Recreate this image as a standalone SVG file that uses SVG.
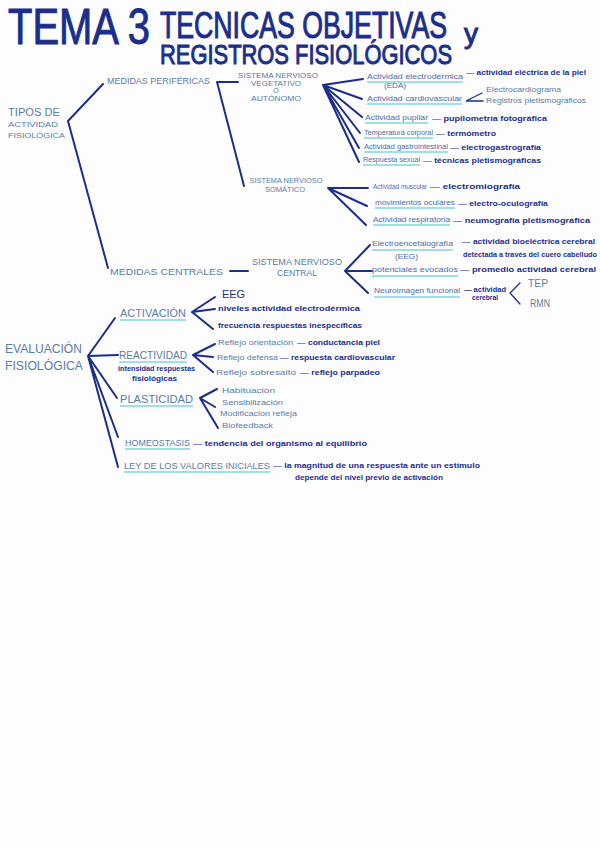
<svg xmlns="http://www.w3.org/2000/svg" width="600" height="848" viewBox="0 0 600 848">
<style>
text{font-family:"Liberation Sans","DejaVu Sans",sans-serif}
.t{fill:#1b2e8c}
.tt{fill:#1b2e8c;stroke:#1b2e8c;stroke-width:1}
.nv{fill:#1b2e8c;font-size:8px;font-weight:bold}
.sl{fill:#5a7ca8}
.it{fill:#4a6db0;font-size:8px}
.h{fill:#5a7ca8;font-size:9px}
.ul{stroke:#7fd6d8;stroke-width:1.6;fill:none}
.ln{stroke:#1b2e8c;stroke-width:2;stroke-linecap:round;fill:none}
.th{stroke:#1b2e8c;stroke-width:1.3;stroke-linecap:round;fill:none}
</style>
<rect width="600" height="848" fill="#fdfdfd"/>
<g id="title">
<text class="tt" x="8" y="44" font-size="50" textLength="142" lengthAdjust="spacingAndGlyphs">TEMA 3</text>
<text class="tt" x="160" y="38" font-size="36" textLength="287" lengthAdjust="spacingAndGlyphs">TECNICAS OBJETIVAS</text>
<text class="tt" x="464" y="43" font-size="28">y</text>
<text class="tt" x="160" y="64" font-size="27" textLength="292" lengthAdjust="spacingAndGlyphs">REGISTROS FISIOLÓGICOS</text>
</g>
<g id="connectors">
<path class="ln" d="M68 121 L103 84 M68 121 L108 268"/>
<path class="ln" d="M217 82 L238 82 M217 82 L244 186"/>
<path class="ln" d="M323 85 L363 79 M323 85 L362 99 M323 85 L362 117 M323 85 L360 133 M323 85 L359 148 M323 85 L359 162"/>
<path class="th" d="M482 93 L466 101 L483 101"/>
<path class="ln" d="M328 188 L368 188 M328 188 L367 206 M328 188 L366 225"/>
<path class="ln" d="M230 271 L248 271"/>
<path class="ln" d="M345 271 L370 245 M345 271 L372 271 M345 271 L368 293"/>
<path class="th" d="M520 283 L510 293 L520 304"/>
<path class="ln" d="M88 356 L115 318 M88 356 L118 355 M88 356 L117 398 M88 356 L118 437 M88 356 L118 467"/>
<path class="ln" d="M192 312 L215 297 M192 312 L215 309 M192 312 L213 329"/>
<path class="ln" d="M193 355 L215 344 M193 355 L213 357 M193 355 L213 372"/>
<path class="ln" d="M200 398 L217 389 M200 398 L215 407 M200 398 L218 428"/>
</g>
<g id="tipos">
<text class="sl" x="8" y="116" font-size="10" textLength="52" lengthAdjust="spacingAndGlyphs">TIPOS DE</text>
<text class="sl" x="8" y="127" font-size="8" textLength="50" lengthAdjust="spacingAndGlyphs">ACTIVIDAD</text>
<text class="sl" x="8" y="138" font-size="8" textLength="57" lengthAdjust="spacingAndGlyphs">FISIOLÓGICA</text>
</g>
<g id="perifericas"><text class="h" x="107" y="84" textLength="103" lengthAdjust="spacingAndGlyphs">MEDIDAS PERIFÉRICAS</text></g>
<g id="centrales"><text class="h" x="110" y="275" textLength="113" lengthAdjust="spacingAndGlyphs">MEDIDAS CENTRALES</text></g>
<g id="snv" text-anchor="middle">
<text class="sl" x="278" y="78" font-size="7.5" textLength="80" lengthAdjust="spacingAndGlyphs">SISTEMA NERVIOSO</text>
<text class="sl" x="276" y="86" font-size="7.5" textLength="50" lengthAdjust="spacingAndGlyphs">VEGETATIVO</text>
<text class="sl" x="276" y="93" font-size="7">O</text>
<text class="sl" x="276" y="101" font-size="7.5" textLength="50" lengthAdjust="spacingAndGlyphs">AUTÓNOMO</text>
</g>
<g id="eda">
<text class="it" x="367" y="79" textLength="96" lengthAdjust="spacingAndGlyphs">Actividad electrodérmica</text>
<text class="it" x="384" y="88" textLength="22" lengthAdjust="spacingAndGlyphs">(EDA)</text>
<path class="ul" d="M367 82 H463"/>
<text class="nv" x="466" y="75" textLength="120" lengthAdjust="spacingAndGlyphs">— actividad eléctrica de la piel</text>
</g>
<g id="cardio">
<text class="it" x="367" y="101" textLength="95" lengthAdjust="spacingAndGlyphs">Actividad cardiovascular</text>
<path class="ul" d="M367 104 H462"/>
<text class="sl" x="486" y="92" font-size="7" textLength="75" lengthAdjust="spacingAndGlyphs">Electrocardiograma</text>
<text class="sl" x="486" y="103" font-size="7" textLength="100" lengthAdjust="spacingAndGlyphs">Registros pletismográficos</text>
</g>
<g id="pupilar">
<text class="it" x="365" y="120" textLength="63" lengthAdjust="spacingAndGlyphs">Actividad pupilar</text>
<path class="ul" d="M365 123 H428"/>
<text class="nv" x="432" y="121" textLength="115" lengthAdjust="spacingAndGlyphs">— pupilometría fotográfica</text>
</g>
<g id="temp">
<text class="it" x="364" y="135" textLength="69" lengthAdjust="spacingAndGlyphs">Temperatura corporal</text>
<path class="ul" d="M364 138 H433"/>
<text class="nv" x="436" y="136" textLength="60" lengthAdjust="spacingAndGlyphs">— termómetro</text>
</g>
<g id="gastro">
<text class="it" x="364" y="149" textLength="84" lengthAdjust="spacingAndGlyphs">Actividad gastrointestinal</text>
<path class="ul" d="M364 152 H448"/>
<text class="nv" x="450" y="150" textLength="91" lengthAdjust="spacingAndGlyphs">— electrogastrografía</text>
</g>
<g id="sexual">
<text class="it" x="363" y="162" textLength="57" lengthAdjust="spacingAndGlyphs">Respuesta sexual</text>
<path class="ul" d="M363 165 H420"/>
<text class="nv" x="423" y="163" textLength="118" lengthAdjust="spacingAndGlyphs">— técnicas pletismográficas</text>
</g>
<g id="sns" text-anchor="middle">
<text class="sl" x="286" y="183" font-size="7.5" textLength="73" lengthAdjust="spacingAndGlyphs">SISTEMA NERVIOSO</text>
<text class="sl" x="285" y="192" font-size="7.5" textLength="40" lengthAdjust="spacingAndGlyphs">SOMÁTICO</text>
</g>
<g id="muscular">
<text class="it" x="373" y="189" textLength="54" lengthAdjust="spacingAndGlyphs">Actividad muscular</text>
<text class="nv" x="430" y="189" textLength="90" lengthAdjust="spacingAndGlyphs">— electromiografía</text>
</g>
<g id="oculares">
<text class="it" x="375" y="205" textLength="80" lengthAdjust="spacingAndGlyphs">movimientos oculares</text>
<path class="ul" d="M375 208 H455"/>
<text class="nv" x="458" y="206" textLength="90" lengthAdjust="spacingAndGlyphs">— electro-oculografía</text>
</g>
<g id="respiratoria">
<text class="it" x="373" y="222" textLength="77" lengthAdjust="spacingAndGlyphs">Actividad respiratoria</text>
<path class="ul" d="M373 225 H450"/>
<text class="nv" x="453" y="223" textLength="137" lengthAdjust="spacingAndGlyphs">— neumografía pletismográfica</text>
</g>
<g id="snc" text-anchor="middle">
<text class="sl" x="297" y="265" font-size="9" textLength="90" lengthAdjust="spacingAndGlyphs">SISTEMA NERVIOSO</text>
<text class="sl" x="297" y="276" font-size="9" textLength="40" lengthAdjust="spacingAndGlyphs">CENTRAL</text>
</g>
<g id="eeg">
<text class="it" x="372" y="246" font-size="9" textLength="81" lengthAdjust="spacingAndGlyphs">Electroencefalografía</text>
<path class="ul" d="M372 250 H453"/>
<text class="it" x="395" y="259" font-size="9" textLength="23" lengthAdjust="spacingAndGlyphs">(EEG)</text>
<text class="nv" x="462" y="244" textLength="133" lengthAdjust="spacingAndGlyphs">— actividad bioeléctrica cerebral</text>
<text class="nv" x="463" y="257" textLength="134" lengthAdjust="spacingAndGlyphs">detectada a través del cuero cabelludo</text>
</g>
<g id="potenciales">
<text class="it" x="372" y="272" font-size="9" textLength="86" lengthAdjust="spacingAndGlyphs">potenciales evocados</text>
<path class="ul" d="M372 276 H458"/>
<text class="nv" x="460" y="272" textLength="136" lengthAdjust="spacingAndGlyphs">— promedio actividad cerebral</text>
</g>
<g id="neuroimagen">
<text class="it" x="374" y="293" font-size="9" textLength="86" lengthAdjust="spacingAndGlyphs">Neuroimagen funcional</text>
<path class="ul" d="M374 297 H460"/>
<text class="nv" x="464" y="292" font-size="7" textLength="42" lengthAdjust="spacingAndGlyphs">— actividad</text>
<text class="nv" x="472" y="300" font-size="7" textLength="26" lengthAdjust="spacingAndGlyphs">cerebral</text>
<text class="sl" x="528" y="287" font-size="10" textLength="20" lengthAdjust="spacingAndGlyphs">TEP</text>
<text class="sl" x="530" y="307" font-size="10" textLength="20" lengthAdjust="spacingAndGlyphs">RMN</text>
</g>
<g id="evaluacion">
<text class="sl" x="5" y="353" font-size="13" textLength="77" lengthAdjust="spacingAndGlyphs">EVALUACIÓN</text>
<text class="sl" x="5" y="370" font-size="13" textLength="78" lengthAdjust="spacingAndGlyphs">FISIOLÓGICA</text>
</g>
<g id="activacion">
<text class="sl" x="120" y="317" font-size="11" textLength="66" lengthAdjust="spacingAndGlyphs">ACTIVACIÓN</text>
<path class="ul" d="M120 320 H186"/>
<text class="t" x="222" y="298" font-size="11" textLength="23" lengthAdjust="spacingAndGlyphs">EEG</text>
<text class="nv" x="218" y="311" textLength="142" lengthAdjust="spacingAndGlyphs">niveles actividad electrodérmica</text>
<text class="nv" x="218" y="328" textLength="144" lengthAdjust="spacingAndGlyphs">frecuencia respuestas inespecíficas</text>
</g>
<g id="reactividad">
<text class="sl" x="119" y="359" font-size="11" textLength="68" lengthAdjust="spacingAndGlyphs">REACTIVIDAD</text>
<path class="ul" d="M119 362 H187"/>
<text class="nv" x="118" y="371" textLength="77" lengthAdjust="spacingAndGlyphs">intensidad respuestas</text>
<text class="nv" x="132" y="381" font-size="6.5" textLength="45" lengthAdjust="spacingAndGlyphs">fisiológicas</text>
<text class="sl" x="218" y="345" font-size="8" textLength="75" lengthAdjust="spacingAndGlyphs">Reflejo orientación</text>
<text class="nv" x="297" y="345" font-size="9" textLength="83" lengthAdjust="spacingAndGlyphs">— conductancia piel</text>
<text class="sl" x="217" y="360" font-size="8" textLength="61" lengthAdjust="spacingAndGlyphs">Reflejo defensa</text>
<text class="nv" x="280" y="360" font-size="9" textLength="115" lengthAdjust="spacingAndGlyphs">— respuesta cardiovascular</text>
<text class="sl" x="216" y="375" font-size="8" textLength="80" lengthAdjust="spacingAndGlyphs">Reflejo sobresalto</text>
<text class="nv" x="300" y="375" font-size="9" textLength="80" lengthAdjust="spacingAndGlyphs">— reflejo parpadeo</text>
</g>
<g id="plasticidad">
<text class="sl" x="120" y="403" font-size="11" textLength="73" lengthAdjust="spacingAndGlyphs">PLASTICIDAD</text>
<path class="ul" d="M120 406 H193"/>
<text class="sl" x="222" y="393" font-size="8" textLength="53" lengthAdjust="spacingAndGlyphs">Habituación</text>
<text class="sl" x="222" y="405" font-size="8" textLength="61" lengthAdjust="spacingAndGlyphs">Sensibilización</text>
<text class="sl" x="220" y="416" font-size="8" textLength="77" lengthAdjust="spacingAndGlyphs">Modificación refleja</text>
<text class="sl" x="222" y="428" font-size="8" textLength="51" lengthAdjust="spacingAndGlyphs">Biofeedback</text>
</g>
<g id="homeostasis">
<text class="sl" x="125" y="446" font-size="9.5" textLength="65" lengthAdjust="spacingAndGlyphs">HOMEOSTASIS</text>
<path class="ul" d="M125 449 H190"/>
<text class="nv" x="193" y="446" textLength="174" lengthAdjust="spacingAndGlyphs">— tendencia del organismo al equilibrio</text>
</g>
<g id="ley">
<text class="sl" x="124" y="469" font-size="9.5" textLength="146" lengthAdjust="spacingAndGlyphs">LEY DE LOS VALORES INICIALES</text>
<path class="ul" d="M124 472 H270"/>
<text class="nv" x="273" y="468" textLength="207" lengthAdjust="spacingAndGlyphs">— la magnitud de una respuesta ante un estímulo</text>
<text class="nv" x="295" y="480" textLength="148" lengthAdjust="spacingAndGlyphs">depende del nivel previo de activación</text>
</g>
</svg>
